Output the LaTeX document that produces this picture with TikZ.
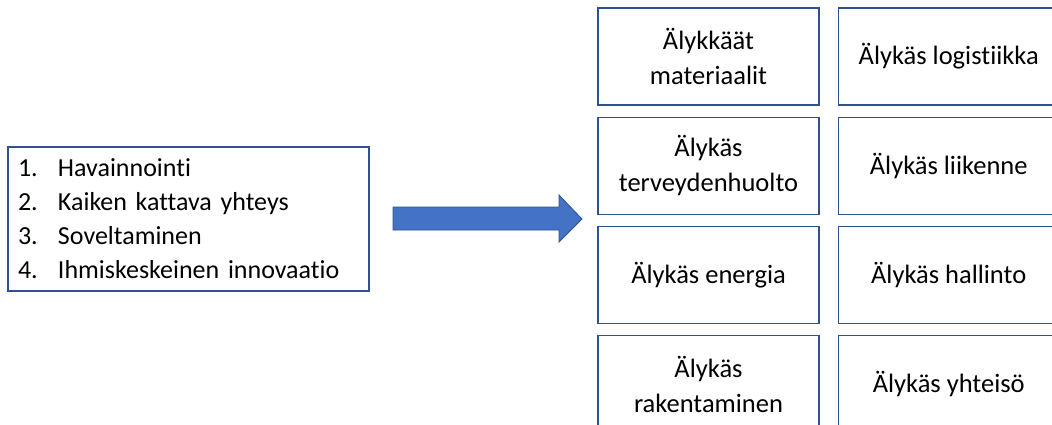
\documentclass[tikz,border=0pt]{standalone}
\usepackage{fontspec}
\setmainfont{Carlito}[Ligatures=CommonOff]
\usetikzlibrary{positioning}
\definecolor{boxline}{HTML}{2F528F}
\definecolor{arrowfill}{HTML}{4472C4}

\begin{document}
\begin{tikzpicture}[x=1pt,y=-1pt,node distance = 11pt and 18pt]
\tikzstyle{area}=[draw=boxline,line width=1.2pt,minimum width=221pt,minimum height=97pt,align=center,inner sep=0pt,font=\fontsize{26.5}{35}\selectfont]
\tikzstyle{list}=[draw=boxline,line width=1.2pt,minimum height=144pt,text width=341pt,inner xsep=10pt,inner ysep=0pt,align=left,font=\fontsize{26}{34}\selectfont]
\tikzstyle{blockarrow}=[draw=boxline,line width=0.8pt,fill=arrowfill]
\useasboundingbox (0,0) rectangle (1052,424);
\clip (0,0) rectangle (1052,424);

% vaiheet
\node[list] (steps) at (188.5,219) {\makebox[40pt][l]{1.}Havainnointi\\
	\makebox[40pt][l]{2.}Kaiken kattava yhteys\\
	\makebox[40pt][l]{3.}Soveltaminen\\
	\makebox[40pt][l]{4.}Ihmiskeskeinen innovaatio};

% alueet
\node[area]	(mat)	at (708.5,56.5)			{Älykkäät\\materiaalit};
\node[area]	(log)	[right = of mat]		{Älykäs logistiikka};
\node[area]	(terv)	[below = of mat]		{Älykäs\\terveydenhuolto};
\node[area]	(liik)	[right = of terv]		{Älykäs liikenne};
\node[area]	(ener)	[below = of terv]		{Älykäs energia};
\node[area]	(hall)	[right = of ener]		{Älykäs hallinto};
\node[area]	(rak)	[below = of ener]		{Älykäs\\rakentaminen};
\node[area]	(yht)	[right = of rak]		{Älykäs yhteisö};

% nuoli
\draw[blockarrow] (393,207) -- (559,207) -- (559,195) -- (582,219)
	-- (559,242) -- (559,230) -- (393,230) -- cycle;
\end{tikzpicture}
\end{document}
